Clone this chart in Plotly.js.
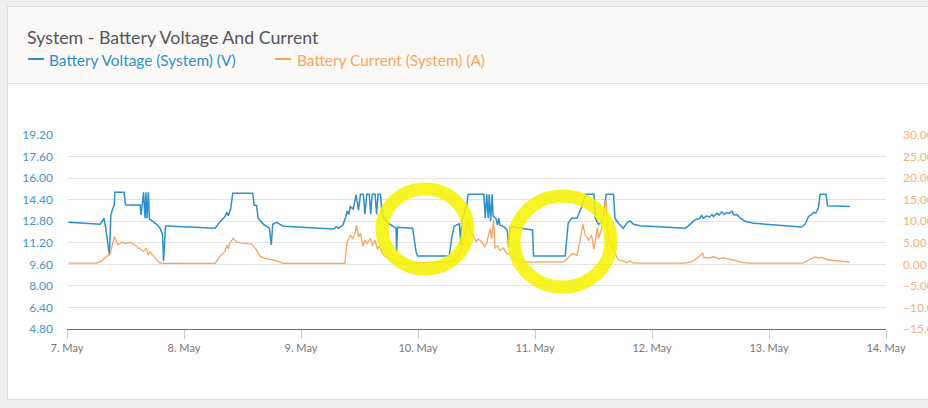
<!DOCTYPE html>
<html>
<head>
<meta charset="utf-8">
<script src="https://cdn.plot.ly/plotly-3.0.1.min.js"></script>
<style>
  html, body { margin: 0; padding: 0; background: #efeeec; width: 928px; height: 408px; overflow: hidden; }
  #card { position: absolute; left: 7px; top: 6px; width: 930px; height: 392px; background: #ffffff; border: 1px solid #dedcd9; }
  #head { position: absolute; left: 0; top: 0; width: 100%; height: 76px; background: #faf9f7; border-bottom: 1px solid #e2e0dd; }
  #chart { position: absolute; left: 0; top: 0; width: 928px; height: 408px; }
</style>
</head>
<body>
<div id="card"><div id="head"></div></div>
<div id="chart"></div>
<script>
// Hours since 7 May 00:00 and values
const voltHours = [0.3, 6.8, 7.6, 7.9, 8.7, 9.0, 9.4, 9.7, 9.8, 11.7, 12.0, 15.0, 15.2, 15.7, 16.0, 16.2, 16.4, 16.7, 16.9, 18.4,
  19.1, 19.6, 19.8, 20.2, 20.5, 30.4, 31.4, 32.4, 32.8, 33.1, 33.6, 34.0, 38.1, 38.4, 38.9, 39.2, 40.3, 41.5, 41.9, 42.2,
  43.0, 44.4, 54.6, 55.2, 55.7, 56.6, 57.2, 57.5, 57.8, 58.1, 58.7, 59.3, 59.8, 60.2, 60.8, 61.1, 61.5, 62.0, 62.3, 62.6,
  63.2, 63.5, 63.8, 64.3, 64.6, 65.0, 65.9, 66.9, 67.5, 67.6, 67.8, 70.9, 71.6, 71.9, 78.4, 78.9, 79.4, 79.9, 80.5, 80.8,
  81.0, 81.6, 82.0, 82.3, 85.5, 85.8, 86.1, 86.4, 86.6, 86.9, 87.2, 87.4, 88.0, 88.3, 88.6, 88.8, 89.6, 90.3, 90.6, 90.9,
  95.5, 95.7, 102.2, 102.8, 103.5, 104.6, 105.6, 106.3, 108.1, 108.4, 109.0, 109.7, 110.0, 110.6, 112.1, 112.4, 113.1, 114.1, 114.8, 115.5,
  116.2, 117.5, 126.8, 127.8, 128.8, 129.8, 130.2, 130.5, 131.2, 131.8, 132.3, 132.6, 133.3, 133.8, 134.3, 134.8, 135.3, 135.9, 136.4, 136.8,
  137.4, 138.1, 139.1, 140.8, 150.7, 151.4, 152.1, 152.8, 153.2, 153.6, 154.1, 154.5, 155.7, 156.0, 160.6];
const voltValues = [12.72, 12.57, 13.02, 12.40, 10.30, 13.26, 13.76, 14.00, 14.95, 14.95, 14.00, 14.00, 13.26, 14.95, 13.02, 14.95, 13.02, 14.95, 12.97, 12.57,
  12.28, 11.78, 9.85, 12.40, 12.45, 12.28, 12.77, 13.14, 13.46, 13.20, 13.76, 14.87, 14.87, 14.00, 13.95, 13.02, 12.57, 12.28, 11.04, 12.57,
  12.72, 12.42, 12.22, 12.40, 12.28, 12.52, 13.14, 13.56, 13.30, 13.88, 13.70, 14.75, 13.63, 14.80, 14.80, 13.32, 14.80, 14.80, 13.32, 14.80,
  14.80, 13.32, 14.80, 14.80, 13.50, 13.02, 12.65, 12.40, 12.28, 10.54, 12.35, 12.28, 10.54, 10.22, 10.22, 11.53, 12.40, 12.52, 12.60, 11.04,
  12.89, 13.50, 14.00, 14.80, 14.80, 13.02, 14.80, 13.02, 14.80, 12.80, 14.80, 13.20, 13.00, 12.52, 13.02, 12.52, 12.40, 12.15, 10.84, 12.40,
  12.15, 10.22, 10.22, 12.65, 13.02, 13.02, 13.88, 14.80, 14.80, 13.02, 12.57, 12.75, 13.10, 14.80, 14.80, 13.02, 12.65, 12.28, 12.65, 12.82,
  12.57, 12.47, 12.28, 12.57, 12.90, 13.02, 13.26, 13.02, 13.20, 13.10, 13.30, 13.15, 13.39, 13.27, 13.50, 13.30, 13.45, 13.39, 13.55, 13.27,
  13.30, 13.02, 12.80, 12.65, 12.37, 12.57, 13.14, 13.32, 13.46, 13.40, 13.76, 14.80, 14.80, 13.95, 13.90];

const currHours = [0.3, 6.1, 7.1, 8.1, 8.8, 9.2, 9.7, 10.2, 10.5, 11.2, 11.9, 12.6, 13.3, 13.9, 15.0, 15.7, 16.3, 16.7, 17.0, 17.7,
  18.4, 19.1, 19.4, 19.8, 30.4, 31.4, 32.4, 32.8, 33.1, 33.4, 34.1, 34.8, 35.5, 36.9, 37.9, 38.9, 39.6, 40.3, 41.6, 43.0,
  44.4, 57.0, 57.4, 58.1, 58.6, 59.1, 59.4, 59.8, 60.2, 60.7, 61.1, 61.6, 62.2, 62.7, 63.2, 63.7, 64.1, 64.6, 65.2, 66.3,
  67.6, 70.4, 78.6, 79.6, 80.6, 81.3, 82.0, 82.3, 82.7, 83.3, 83.9, 84.4, 85.1, 85.7, 86.1, 86.4, 86.8, 87.1, 87.5, 87.8,
  88.3, 88.8, 89.5, 90.2, 90.9, 91.9, 92.9, 101.8, 102.5, 103.2, 103.9, 104.6, 105.2, 105.8, 106.3, 107.0, 107.6, 108.1, 108.5, 108.8,
  109.0, 109.5, 109.9, 110.2, 110.6, 110.8, 111.3, 111.9, 112.4, 113.1, 114.1, 114.8, 115.5, 116.2, 126.8, 128.2, 129.2, 130.0, 130.4, 130.7,
  132.0, 132.6, 133.7, 134.7, 136.0, 137.4, 138.7, 140.1, 151.0, 152.1, 153.4, 154.1, 154.8, 156.2, 157.9, 160.6];
const currValues = [0.3, 0.3, 0.8, 1.8, 2.2, 4.1, 6.4, 5.2, 4.5, 5.2, 4.8, 5.1, 5.0, 4.5, 3.5, 3.0, 3.7, 2.2, 2.9, 2.0,
  1.2, 0.15, 0.4, 0.2, 0.2, 1.9, 3.0, 4.5, 3.6, 5.0, 6.0, 5.2, 5.0, 4.9, 4.7, 3.3, 1.9, 1.5, 1.2, 0.8,
  0.2, 0.2, 4.9, 6.8, 6.0, 7.2, 9.1, 6.3, 7.2, 4.1, 5.6, 4.8, 6.0, 4.3, 5.6, 3.5, 4.3, 2.7, 1.9, 1.3,
  0.4, 0.3, 0.6, 1.2, 2.5, 5.6, 8.7, 10.3, 7.6, 6.8, 5.3, 5.9, 5.1, 4.1, 5.0, 6.8, 8.3, 6.0, 10.3, 3.7,
  4.3, 3.2, 3.8, 2.5, 2.3, 1.2, 0.5, 0.6, 1.2, 2.1, 2.5, 2.1, 5.2, 9.3, 6.8, 5.6, 6.8, 3.5, 6.8, 8.5,
  6.0, 7.6, 9.9, 13.0, 14.9, 9.0, 4.9, 4.5, 2.5, 1.0, 0.8, 0.4, 0.8, 0.3, 0.3, 0.6, 1.4, 2.0, 2.5, 1.5,
  1.5, 1.8, 1.3, 1.5, 1.2, 0.8, 0.4, 0.3, 0.3, 1.0, 1.7, 1.5, 1.6, 1.0, 0.8, 0.5];

const dayTicks = ['2021-05-07', '2021-05-08', '2021-05-09', '2021-05-10', '2021-05-11', '2021-05-12', '2021-05-13', '2021-05-14'];
const dayLabels = ['7. May', '8. May', '9. May', '10. May', '11. May', '12. May', '13. May', '14. May'];
const voltTicks = [4.8, 6.4, 8.0, 9.6, 11.2, 12.8, 14.4, 16.0, 17.6, 19.2];
const currTicks = [-15, -10, -5, 0, 5, 10, 15, 20, 25, 30];

const titleText = 'System - Battery Voltage And Current';
const voltName = 'Battery Voltage (System) (V)';
const currName = 'Battery Current (System) (A)';

const BLUE = '#2e90c8';
const ORANGE = '#f6a55e';
const base = Date.UTC(2021, 4, 7);
function toDate(h) {
  return new Date(base + h * 3600000).toISOString().replace('T', ' ').slice(0, 19);
}

const traces = [
  { x: currHours.map(toDate), y: currValues, yaxis: 'y2', name: currName, type: 'scatter', mode: 'lines',
    line: { color: ORANGE, width: 1.3 }, showlegend: false },
  { x: voltHours.map(toDate), y: voltValues, yaxis: 'y', name: voltName, type: 'scatter', mode: 'lines',
    line: { color: BLUE, width: 1.5 }, showlegend: false }
];

const W = 928, H = 408, ML = 67, MR = 42, MT = 135, MB = 79;
const PW = W - ML - MR, PH = H - MT - MB;
const px = v => (v - ML) / PW;
const py = v => (H - MB - v) / PH;

const layout = {
  width: W, height: H,
  margin: { l: ML, r: MR, t: MT, b: MB },
  paper_bgcolor: 'rgba(0,0,0,0)',
  plot_bgcolor: 'rgba(0,0,0,0)',
  font: { family: 'Lato, "Open Sans", sans-serif', color: '#666' },
  title: { text: titleText, xref: 'container', yref: 'container', x: 27 / W, xanchor: 'left',
    y: 1 - 38 / H, yanchor: 'middle', font: { size: 17.8, color: '#555555', family: 'Lato, sans-serif' } },
  xaxis: {
    type: 'date', range: [dayTicks[0], dayTicks[7]], tickvals: dayTicks, ticktext: dayLabels,
    showgrid: false, zeroline: false, showline: true, linecolor: '#707070', linewidth: 1,
    ticks: 'outside', ticklen: 9, tickcolor: '#c8c8c8', tickwidth: 1,
    tickfont: { size: 11, color: '#777' }, fixedrange: true
  },
  yaxis: {
    range: [4.8, 19.2], tickvals: voltTicks, tickformat: '.2f', showgrid: true, gridcolor: '#e3e3e3', gridwidth: 1,
    zeroline: false, showline: false, ticks: '', ticklabelstandoff: 13,
    tickfont: { size: 12, color: '#4a93c3' }, fixedrange: true
  },
  yaxis2: {
    range: [-15, 30], tickvals: currTicks, tickformat: '.2f', overlaying: 'y', side: 'right', showgrid: false,
    zeroline: false, showline: false, ticks: '', ticklabelstandoff: 16,
    tickfont: { size: 12, color: '#f3b27a' }, fixedrange: true
  },
  annotations: [
    { text: voltName, xref: 'paper', yref: 'paper', x: px(47), y: py(60), xanchor: 'left', yanchor: 'middle',
      showarrow: false, font: { size: 15.4, color: BLUE, family: 'Lato, sans-serif' } },
    { text: currName, xref: 'paper', yref: 'paper', x: px(295), y: py(60), xanchor: 'left', yanchor: 'middle',
      showarrow: false, font: { size: 15.4, color: ORANGE, family: 'Lato, sans-serif' } }
  ],
  shapes: [
    { type: 'line', xref: 'paper', yref: 'paper', x0: px(28), x1: px(44), y0: py(59), y1: py(59), line: { color: BLUE, width: 2 } },
    { type: 'line', xref: 'paper', yref: 'paper', x0: px(275), x1: px(291), y0: py(59), y1: py(59), line: { color: ORANGE, width: 2 } },
    { type: 'circle', xref: 'paper', yref: 'paper', x0: px(382), x1: px(468), y0: py(269), y1: py(189), layer: 'above',
      line: { color: 'rgba(246,242,0,0.85)', width: 13 } },
    { type: 'circle', xref: 'paper', yref: 'paper', x0: px(514), x1: px(611), y0: py(287), y1: py(196), layer: 'above',
      line: { color: 'rgba(246,242,0,0.85)', width: 13 } }
  ],
  showlegend: false,
  hovermode: 'x'
};

Plotly.newPlot('chart', traces, layout, { displayModeBar: false, staticPlot: false });
</script>
</body>
</html>
